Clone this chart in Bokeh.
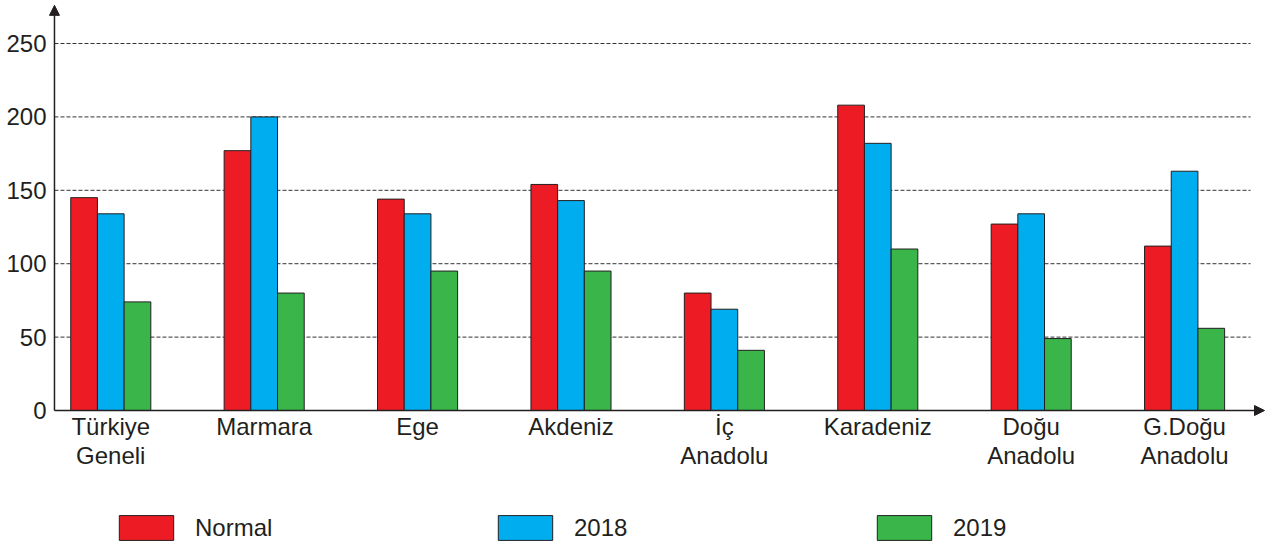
import numpy as np
from bokeh.plotting import figure
from bokeh.models import (ColumnDataSource, Range1d, FixedTicker, Legend, LegendItem,
                          Arrow, NormalHead)
from bokeh.transform import dodge
from bokeh.embed import file_html
from bokeh.resources import INLINE

categories = ["Türkiye\nGeneli", "Marmara", "Ege", "Akdeniz", "İç\nAnadolu",
              "Karadeniz", "Doğu\nAnadolu", "G.Doğu\nAnadolu"]
normal = [145, 177, 144, 154, 80, 208, 127, 112]
y2018 = [134, 200, 134, 143, 69, 182, 134, 163]
y2019 = [74, 80, 95, 95, 41, 110, 49, 56]
y_ticks = [0, 50, 100, 150, 200, 250]
series_names = ["Normal", "2018", "2019"]
series_colors = ["#ed1c24", "#00aeef", "#39b54a"]

INK = "#231f20"
FONT = "Liberation Sans"

# frame extents and axis placement in data units
X_START, X_END = -0.419, 7.534
X_AXIS = -0.367       # where the vertical axis sits
X_GRID_END = 7.43     # where dashed gridlines stop
X_ARROW_END = 7.521
Y_START, Y_END = -94.0, 279.3   # frame reaches down to the legend row
Y_ARROW_END = 276

xs = list(range(len(categories)))
src = ColumnDataSource(dict(x=xs, normal=normal, y2018=y2018, y2019=y2019))

p = figure(width=1266, height=548, output_backend="svg", toolbar_location=None,
           x_range=Range1d(X_START, X_END), y_range=Range1d(Y_START, Y_END),
           min_border_left=46, min_border_right=0, min_border_top=0, min_border_bottom=0)
p.outline_line_color = None
p.background_fill_color = "white"
p.border_fill_color = "white"

# dashed gridlines at the y ticks, from the axis to the right end
p.segment(x0=X_AXIS, x1=X_GRID_END, y0=y_ticks[1:], y1=y_ticks[1:],
          line_color="#333333", line_dash="4 2", line_width=1)

bw = 0.174
renderers = []
for off, col, name, color in zip([-bw, 0, bw], ["normal", "y2018", "y2019"],
                                 series_names, series_colors):
    r = p.vbar(x=dodge("x", off, range=p.x_range), top=col, width=bw, bottom=0,
               source=src, fill_color=color, line_color=INK, line_width=1)
    renderers.append(r)

# axes (labels only); x axis drawn at y=0 inside the frame
p.xaxis.fixed_location = 0
p.xaxis.ticker = FixedTicker(ticks=xs)
p.xaxis.major_label_overrides = {i: c for i, c in enumerate(categories)}
p.yaxis.ticker = FixedTicker(ticks=y_ticks)
for ax in (p.xaxis, p.yaxis):
    ax.axis_line_color = None
    ax.major_tick_line_color = None
    ax.minor_tick_line_color = None
    ax.major_tick_out = 0
    ax.major_tick_in = 0
    ax.minor_tick_out = 0
    ax.major_label_text_font = FONT
    ax.major_label_text_font_size = "24px"
    ax.major_label_text_color = INK
p.xaxis.major_label_standoff = 2
p.xaxis.major_label_text_line_height = 1.1
p.yaxis.major_label_standoff = 0
p.grid.grid_line_color = None

# axis arrows
p.add_layout(Arrow(end=NormalHead(size=10, fill_color=INK, line_color=INK),
                   x_start=X_AXIS, y_start=0, x_end=X_ARROW_END, y_end=0,
                   line_color=INK, line_width=1.5))
p.add_layout(Arrow(end=NormalHead(size=10, fill_color=INK, line_color=INK),
                   x_start=X_AXIS, y_start=0, x_end=X_AXIS, y_end=Y_ARROW_END,
                   line_color=INK, line_width=1.5))

legend = Legend(items=[LegendItem(label=n, renderers=[r]) for n, r in zip(series_names, renderers)],
                orientation="horizontal", location=(66, 5),
                glyph_width=68, glyph_height=31, label_standoff=15, label_width=110,
                spacing=186, padding=0, margin=0,
                label_text_font=FONT, label_text_font_size="24px", label_text_color=INK,
                border_line_color=None, background_fill_alpha=0)
p.add_layout(legend, "center")

open("out.html", "w").write(file_html(p, INLINE))
